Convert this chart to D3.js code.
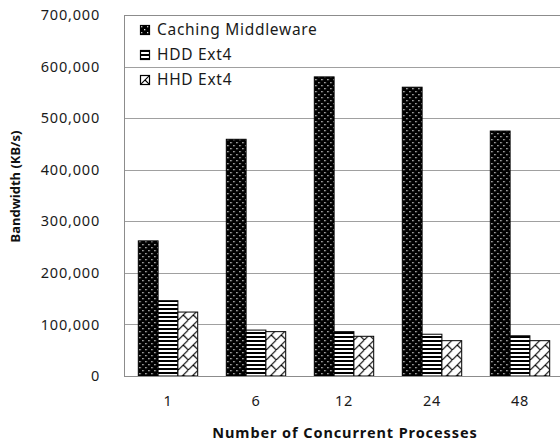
<!DOCTYPE html>
<html><head><meta charset="utf-8">
<script src="https://cdn.jsdelivr.net/npm/d3@7/dist/d3.min.js"></script>
<style>
html,body{margin:0;padding:0;background:#fff;}
svg{display:block;}
text{font-family:"Noto Sans","Open Sans",sans-serif;}
</style></head>
<body>
<svg id="chart" width="560" height="443"></svg>
<script>
const categories = ["1", "6", "12", "24", "48"];
const seriesNames = ["Caching Middleware", "HDD Ext4", "HHD Ext4"];
const cachingValues = [262000, 459000, 580000, 560000, 475000];
const hddValues = [146000, 89000, 86000, 81000, 78000];
const hhdValues = [124000, 86000, 77000, 68500, 68500];
const yTicks = [0, 100000, 200000, 300000, 400000, 500000, 600000, 700000];

const seriesValues = [cachingValues, hddValues, hhdValues];
const svg = d3.select("#chart");
const L = 124, T = 15, R = 564, B = 376;

const defs = svg.append("defs");
const p1 = defs.append("pattern").attr("id","pDots").attr("patternUnits","userSpaceOnUse")
  .attr("width",6).attr("height",6);
p1.append("rect").attr("width",6).attr("height",6).attr("fill","#000");
p1.append("rect").attr("x",1).attr("y",1).attr("width",1.3).attr("height",1.3).attr("fill","#e0e0e0");
p1.append("rect").attr("x",4).attr("y",4).attr("width",1.3).attr("height",1.3).attr("fill","#e0e0e0");
const p2 = defs.append("pattern").attr("id","pStripes").attr("patternUnits","userSpaceOnUse")
  .attr("width",4).attr("height",4);
p2.append("rect").attr("width",4).attr("height",4).attr("fill","#fff");
p2.append("rect").attr("y",0).attr("width",4).attr("height",2).attr("fill","#000");
const p3 = defs.append("pattern").attr("id","pBrick").attr("patternUnits","userSpaceOnUse")
  .attr("width",10).attr("height",10);
p3.append("rect").attr("width",10).attr("height",10).attr("fill","#fff");
p3.append("path").attr("d","M-1,11 L11,-1 M5,5 L10,10").attr("stroke","#000").attr("stroke-width",1.1).attr("fill","none");
const fills = ["url(#pDots)","url(#pStripes)","url(#pBrick)"];

const y = d3.scaleLinear().domain([0,700000]).range([B,T]);
const x0 = d3.scaleBand().domain(categories).range([L,R]).paddingInner(0.325).paddingOuter(0.1625);
const x1 = d3.scaleBand().domain(d3.range(seriesNames.length)).range([0,x0.bandwidth()]);

svg.append("g").selectAll("line").data(yTicks.filter(d=>d>0)).join("line")
  .attr("x1",L).attr("x2",R).attr("y1",d=>Math.round(y(d))+0.5).attr("y2",d=>Math.round(y(d))+0.5)
  .attr("stroke","#a0a0a0").attr("stroke-width",1);
svg.append("rect").attr("x",L+0.5).attr("y",T+0.5).attr("width",R-L).attr("height",B-T)
  .attr("fill","none").attr("stroke","#8c8c8c");

const yAxis = d3.axisLeft(y).tickValues(yTicks).tickSize(0).tickPadding(0).tickFormat(d3.format(","));
const gy = svg.append("g").attr("transform",`translate(${L-24},0)`).call(yAxis);
gy.select(".domain").remove();
gy.selectAll("text").attr("font-size",14.5).attr("letter-spacing","0.8px").attr("fill","#1a1a1a")
  .style("font-family","'Noto Sans',sans-serif");

const xAxis = d3.axisBottom(x0).tickSize(0).tickPadding(0);
const gx = svg.append("g").attr("transform",`translate(0,${B+20})`).call(xAxis);
gx.select(".domain").remove();
gx.selectAll("text").attr("font-size",14.5).attr("letter-spacing","0.8px").attr("fill","#1a1a1a")
  .style("font-family","'Noto Sans',sans-serif");

const groups = svg.append("g").selectAll("g").data(categories).join("g")
  .attr("transform",d=>`translate(${x0(d)},0)`);
groups.selectAll("rect").data((d,i)=>seriesValues.map((vals,s)=>({s, v:vals[i]}))).join("rect")
  .attr("x",d=>x1(d.s)).attr("width",x1.bandwidth())
  .attr("y",d=>y(d.v)).attr("height",d=>B-y(d.v))
  .attr("fill",d=>fills[d.s]).attr("stroke","#000").attr("stroke-width",1);

svg.append("line").attr("x1",L).attr("x2",R).attr("y1",B+0.5).attr("y2",B+0.5).attr("stroke","#8c8c8c");

const lg = svg.append("g").selectAll("g").data(seriesNames).join("g")
  .attr("transform",(d,i)=>`translate(140,${25+i*25})`);
lg.append("rect").attr("x",0.5).attr("y",0.5).attr("width",9).attr("height",9)
  .attr("fill",(d,i)=>fills[i]).attr("stroke","#000").attr("stroke-width",1.2);
lg.append("text").attr("x",17).attr("y",5).attr("dy","0.35em").attr("font-size",15.5)
  .attr("letter-spacing","0.7px").attr("fill","#1a1a1a").text(d=>d);

svg.append("text").attr("transform",`translate(20,${(T+B)/2 - 9}) rotate(-90)`)
  .attr("text-anchor","middle").attr("font-size",13).attr("font-weight","bold").attr("fill","#111")
  .text("Bandwidth  (KB/s)");
svg.append("text").attr("x",345).attr("y",438).attr("text-anchor","middle")
  .attr("font-size",14.5).attr("letter-spacing","0.9px").attr("font-weight","bold").attr("fill","#111")
  .text("Number of Concurrent Processes");
</script>
</body></html>
